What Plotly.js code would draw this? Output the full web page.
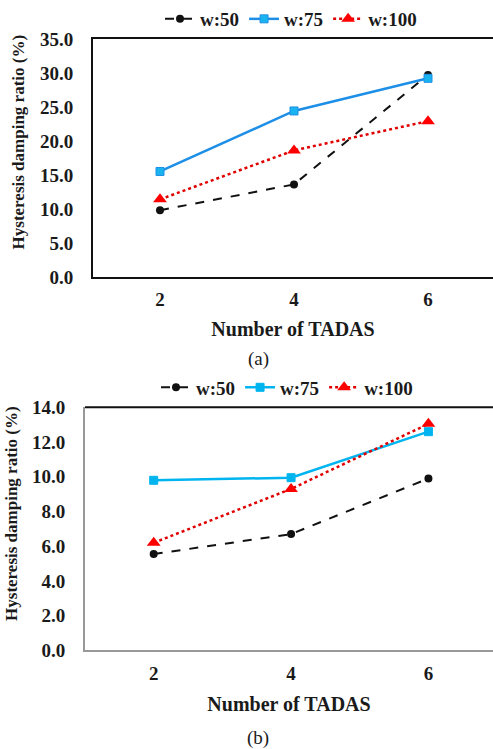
<!DOCTYPE html>
<html>
<head>
<meta charset="utf-8">
<script src="https://cdn.plot.ly/plotly-3.0.1.min.js"></script>
<style>html,body{margin:0;padding:0;background:#fff;}#chart{width:493px;height:749px;}</style>
</head>
<body>
<div id="chart"></div>
<script>
// Categories (number of TADAS)
const tadas = [2, 4, 6];
const seriesNames = ["w:50", "w:75", "w:100"];

// Panel (a) values (%)
const a_w50 = [9.8, 13.6, 29.7];
const a_w75 = [15.5, 24.4, 29.2];
const a_w100 = [11.4, 18.6, 22.9];

// Panel (b) values (%)
const b_w50 = [5.55, 6.7, 9.9];
const b_w75 = [9.8, 9.95, 12.6];
const b_w100 = [6.2, 9.3, 13.05];

const yTicksA = [0, 5, 10, 15, 20, 25, 30, 35];
const yTicksB = [0, 2, 4, 6, 8, 10, 12, 14];

const yTitle = "Hysteresis damping ratio (%)";
const xTitle = "Number of TADAS";

const FONT = "Liberation Serif, Times New Roman, serif";
const INK = "#1a1a1a";

function mk(x, y, name, style, xa, ya, legend, colorLine, colorMarker) {
  const s = {
    w50: {dash: "dash", width: 2, symbol: "circle", size: 8},
    w75: {dash: "solid", width: 2.5, symbol: "square", size: 8},
    w100: {dash: "dot", width: 2.5, symbol: "triangle-up", size: 12}
  }[style];
  return {
    x: x, y: y, name: name, type: "scatter", mode: "lines+markers",
    xaxis: xa, yaxis: ya, legend: legend,
    line: {color: colorLine, dash: s.dash, width: s.width},
    marker: {symbol: s.symbol, size: s.size, color: colorMarker,
             line: {color: colorLine, width: style === "w75" ? 1 : 0}}
  };
}

const traces = [
  mk(tadas, a_w50, seriesNames[0], "w50", "x", "y", "legend", "#111111", "#111111"),
  mk(tadas, a_w75, seriesNames[1], "w75", "x", "y", "legend", "#1E8FE6", "#19B4F0"),
  mk(tadas, a_w100, seriesNames[2], "w100", "x", "y", "legend", "#E00000", "#FF0000"),
  mk(tadas, b_w50, seriesNames[0], "w50", "x2", "y2", "legend2", "#111111", "#111111"),
  mk(tadas, b_w75, seriesNames[1], "w75", "x2", "y2", "legend2", "#00B4F0", "#00B4F0"),
  mk(tadas, b_w100, seriesNames[2], "w100", "x2", "y2", "legend2", "#E00000", "#FF0000")
];

const tickFont = {family: FONT, size: 19, color: INK, weight: "bold"};

function yax(domain, ticks, range, lineColor) {
  return {
    domain: domain, range: range, tickvals: ticks,
    ticktext: ticks.map(v => v.toFixed(1)),
    showgrid: false, zeroline: false, showline: true, linecolor: lineColor, linewidth: 2,
    ticks: "", ticklabelstandoff: 14, tickfont: tickFont,
    fixedrange: true
  };
}
function xax(domain, range, lineColor, anchor) {
  return {
    domain: domain, range: range, anchor: anchor, tickvals: tadas,
    showgrid: false, zeroline: false, showline: true, linecolor: lineColor, linewidth: 2,
    ticks: "", ticklabelstandoff: 4, tickfont: tickFont,
    title: {text: xTitle, font: {family: FONT, size: 20, color: INK, weight: "bold"}, standoff: 13},
    fixedrange: true
  };
}

const legendStyle = {orientation: "h", yanchor: "middle", xanchor: "center",
  font: {family: FONT, size: 19, color: INK, weight: "bold"},
  itemwidth: 30, tracegroupgap: 0, bgcolor: "rgba(0,0,0,0)", borderwidth: 0};

const layout = {
  width: 493, height: 749,
  margin: {l: 0, r: 0, t: 0, b: 0},
  paper_bgcolor: "#fff", plot_bgcolor: "#fff",
  showlegend: true,
  font: {family: FONT},
  xaxis: Object.assign(xax([93/493, 1], [1, 6.97], "#111", "y"), {mirror: true}),
  yaxis: Object.assign(yax([1 - 275/749, 1 - 36/749], yTicksA, [0, 35], "#111"), {anchor: "x"}),
  xaxis2: Object.assign(xax([85/493, 1], [1, 6.94], "#999", "y2"),
    {ticklabelstandoff: 5, title: {text: xTitle, font: {family: FONT, size: 20, color: INK, weight: "bold"}, standoff: 14}}),
  yaxis2: Object.assign(yax([1 - 650/749, 1 - 406/749], yTicksB, [0, 14], "#999"), {anchor: "x2"}),
  legend: Object.assign({}, legendStyle, {x: 291/493, y: 1 - 16/749}),
  legend2: Object.assign({}, legendStyle, {x: 287/493, y: 1 - 386/749}),
  shapes: [
    {type: "line", xref: "x2 domain", yref: "y2 domain", x0: 0, x1: 1, y0: 1, y1: 1,
     line: {color: "#111", width: 2}}
  ],
  annotations: [
    {text: yTitle, xref: "paper", yref: "paper", x: 18/493, y: 1 - 140/749, textangle: -90,
     xanchor: "center", yanchor: "middle",
     showarrow: false, font: {family: FONT, size: 17, color: INK, weight: "bold"}},
    {text: yTitle, xref: "paper", yref: "paper", x: 12/493, y: 1 - 513/749, textangle: -90,
     xanchor: "center", yanchor: "middle",
     showarrow: false, font: {family: FONT, size: 17, color: INK, weight: "bold"}},
    {text: "(a)", xref: "paper", yref: "paper", x: 258/493, y: 1 - 357/749, showarrow: false,
     xanchor: "center", yanchor: "middle", font: {family: FONT, size: 19, color: INK}},
    {text: "(b)", xref: "paper", yref: "paper", x: 258/493, y: 1 - 738/749, showarrow: false,
     xanchor: "center", yanchor: "middle", font: {family: FONT, size: 19, color: INK}}
  ]
};

Plotly.newPlot("chart", traces, layout, {staticPlot: true, displayModeBar: false});
</script>
</body>
</html>
